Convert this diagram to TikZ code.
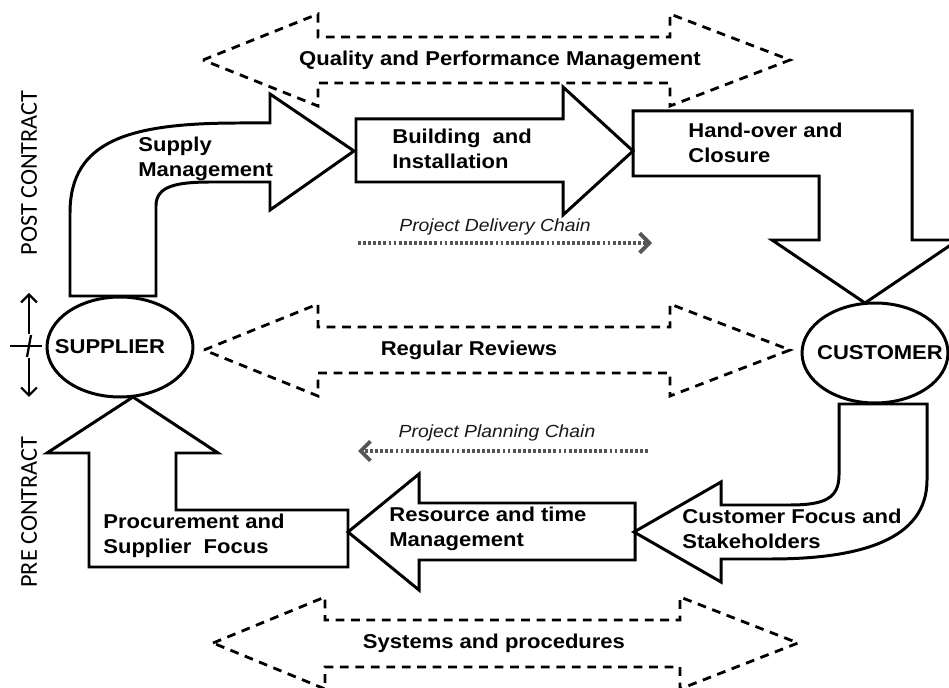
\documentclass[tikz,border=0pt]{standalone}
\usepackage{fontspec}
\setmainfont{Liberation Sans}[FakeStretch=1.1]
\newfontfamily\sidefont{Carlito}
\usetikzlibrary{arrows.meta,shapes.geometric}
\definecolor{chaingray}{HTML}{555555}
\tikzset{
  blockarrow/.style={draw=black, line width=1.7pt, line join=miter},
  dasharrow/.style={draw=black, line width=1.6pt, dash pattern=on 5pt off 3.8pt},
  boldtext/.style={font=\bfseries\fontsize{11.4}{14.5}\selectfont, align=left, inner sep=0pt},
  chaintext/.style={font=\itshape\fontsize{10}{12}\selectfont, text=black!90, inner sep=0pt},
  chainline/.style={draw=chaingray, line width=2.2pt, dash pattern=on 1.6pt off 1.3pt,
    -{Straight Barb[length=5.5pt,width=11pt,line width=2.2pt]}},
  party/.style={ellipse, draw=black, line width=1.7pt, minimum width=2.92cm, minimum height=2cm, inner sep=0pt},
  sidetext/.style={font=\sidefont\fontsize{13.8}{16}\selectfont, rotate=90, inner sep=0pt},
  phasemark/.style={draw=black, line width=1.3pt, -{Straight Barb[length=4.5pt,width=9pt,line width=1.3pt]}}
}
\begin{document}
\begin{tikzpicture}[x=0.02cm,y=-0.02cm]
\clip (0,0) rectangle (949,688);
\fill[white] (0,0) rectangle (949,688);

% dashed double arrows (management layers)
\draw[dasharrow] (203,60) -- (318,14) -- (318,37) -- (670,37) -- (670,14) -- (790,60)
  -- (670,106) -- (670,83) -- (318,83) -- (318,106) -- cycle;
\node[boldtext] (quality) at (500,60) {Quality and Performance Management};

\draw[dasharrow] (204,350) -- (318,304) -- (318,327) -- (670,327) -- (670,304) -- (790,350)
  -- (670,396) -- (670,373) -- (318,373) -- (318,396) -- cycle;
\node[boldtext] (reviews) at (469,350) {Regular Reviews};

\draw[dasharrow] (213,643) -- (325,597) -- (325,620) -- (680,620) -- (680,597) -- (798,643)
  -- (680,689) -- (680,667) -- (325,667) -- (325,689) -- cycle;
\node[boldtext] (systems) at (494,643) {Systems and procedures};

% parties
\node[party] (supplier) at (120,347) {};
\node[boldtext] (supplierlabel) at (110,347) {SUPPLIER};
\node[party] (customer) at (875,353) {};
\node[boldtext] (customerlabel) at (880,353) {CUSTOMER};

% project delivery chain (post contract)
\draw[blockarrow] (70,296) -- (70,213) .. controls (70,140) and (130,123) .. (240,123)
  -- (270,123) -- (270,94) -- (354,151) -- (270,210) -- (270,182) -- (212,182)
  .. controls (176,182) and (156,186) .. (156,206) -- (156,296) -- cycle;
\node[boldtext, anchor=west] (supply) at (138,159) {Supply\\Management};

\draw[blockarrow] (356,119) -- (563,119) -- (563,87) -- (633,151) -- (563,215) -- (563,182)
  -- (356,182) -- cycle;
\node[boldtext, anchor=west] (building) at (392,149) {Building\ \ and\\Installation};

\draw[blockarrow] (633,111) -- (912,111) -- (912,240) -- (958,240) -- (865,303) -- (772,240)
  -- (819,240) -- (819,176) -- (633,176) -- cycle;
\node[boldtext, anchor=west] (handover) at (688,143) {Hand-over and\\Closure};

% project planning chain (pre contract)
\draw[blockarrow] (839,404) -- (927,404) -- (927,480) .. controls (927,540) and (860,559) .. (770,559)
  -- (721,559) -- (721,582) -- (634,532) -- (721,482) -- (721,505) -- (790,505)
  .. controls (825,505) and (839,498) .. (839,475) -- cycle;
\node[boldtext, anchor=west] (custfocus) at (682,529) {Customer Focus and\\Stakeholders};

\draw[blockarrow] (635,503) -- (635,560) -- (419,560) -- (419,590) -- (348,532) -- (419,474)
  -- (419,503) -- cycle;
\node[boldtext, anchor=west] (resource) at (389,529) {Resource and time\\Management};

\draw[blockarrow] (348,510) -- (348,567) -- (89,567) -- (89,453) -- (47,453) -- (133,397)
  -- (218,453) -- (176,453) -- (176,510) -- cycle;
\node[boldtext, anchor=west] (procurement) at (103,536) {Procurement and\\Supplier\ \ Focus};

% chain direction arrows
\coordinate (delstart) at (358,243);
\coordinate (delend) at (652,243);
\draw[chainline] (delstart) -- (delend);
\node[chaintext] (delivery) at (495,227) {Project Delivery Chain};

\coordinate (planstart) at (648,451);
\coordinate (planend) at (358,451);
\draw[chainline] (planstart) -- (planend);
\node[chaintext] (planning) at (497,433) {Project Planning Chain};

% contract phase labels
\node[sidetext] (post) at (29,173) {POST CONTRACT};
\node[sidetext] (pre) at (29,512) {PRE CONTRACT};
\coordinate (upfrom) at (29,334);
\coordinate (upto) at (29,293);
\coordinate (downfrom) at (29,358);
\coordinate (downto) at (29,397);
\draw[phasemark] (upfrom) -- (upto);
\draw[phasemark] (downfrom) -- (downto);
\coordinate (sepleft) at (10,346);
\coordinate (sepright) at (42,346);
\coordinate (slashlow) at (27,357);
\coordinate (slashhigh) at (31,335);
\draw[line width=1.3pt] (sepleft) -- (sepright);
\draw[line width=1.3pt] (slashlow) -- (slashhigh);
\end{tikzpicture}
\end{document}
